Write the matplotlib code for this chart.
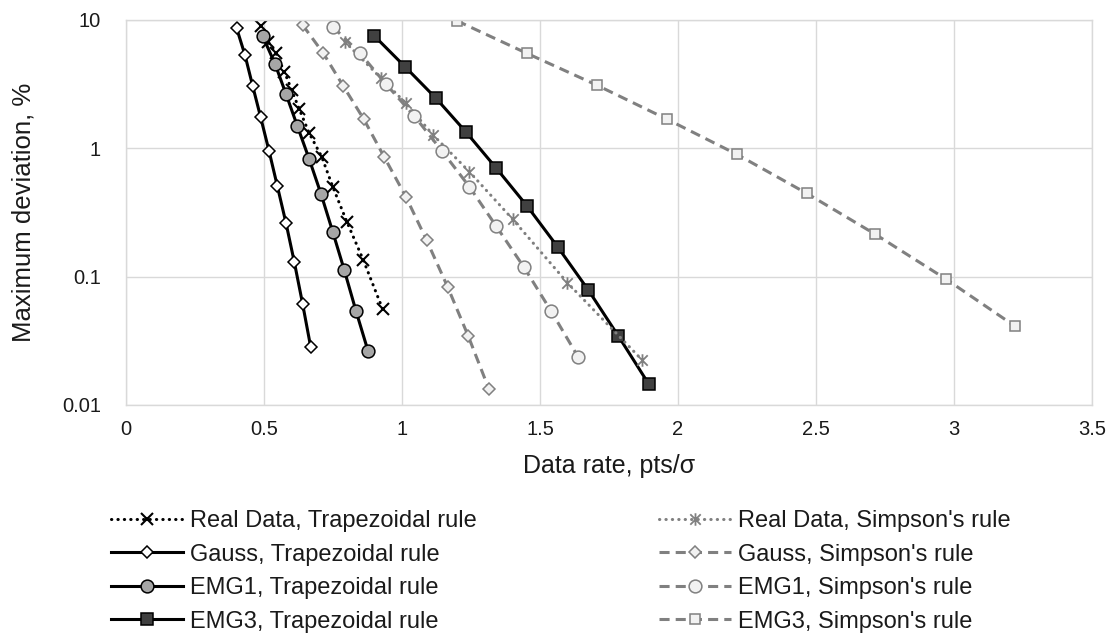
import matplotlib
matplotlib.use('Agg')
import matplotlib.pyplot as plt
from matplotlib.path import Path
from matplotlib.ticker import FixedLocator, FixedFormatter, NullLocator

plt.rcParams['font.family'] = ['Liberation Sans', 'DejaVu Sans']

# ---------------- data ----------------
real_trap_x = [0.488, 0.516, 0.543, 0.574, 0.600, 0.628, 0.664, 0.709, 0.749, 0.800, 0.860, 0.930]
real_trap_y = [8.9, 6.65, 5.46, 3.92, 2.83, 2.0, 1.30, 0.856, 0.50, 0.267, 0.134, 0.0556]

gauss_trap_x = [0.401, 0.431, 0.459, 0.488, 0.518, 0.548, 0.580, 0.610, 0.640, 0.669]
gauss_trap_y = [8.54, 5.29, 3.04, 1.73, 0.953, 0.509, 0.259, 0.129, 0.0611, 0.0284]

emg1_trap_x = [0.495, 0.540, 0.580, 0.621, 0.664, 0.707, 0.749, 0.791, 0.833, 0.877]
emg1_trap_y = [7.44, 4.51, 2.62, 1.48, 0.817, 0.436, 0.223, 0.112, 0.0542, 0.0263]

emg3_trap_x = [0.900, 1.011, 1.123, 1.232, 1.341, 1.453, 1.564, 1.675, 1.784, 1.894]
emg3_trap_y = [7.44, 4.29, 2.44, 1.33, 0.699, 0.354, 0.170, 0.0785, 0.0344, 0.01456]

real_simp_x = [0.793, 0.924, 1.014, 1.113, 1.244, 1.401, 1.599, 1.870]
real_simp_y = [6.72, 3.49, 2.23, 1.26, 0.654, 0.279, 0.0895, 0.0224]

gauss_simp_x = [0.640, 0.715, 0.787, 0.862, 0.935, 1.014, 1.089, 1.166, 1.240, 1.315]
gauss_simp_y = [9.06, 5.46, 3.04, 1.67, 0.856, 0.418, 0.192, 0.0824, 0.0344, 0.0133]

emg1_simp_x = [0.749, 0.848, 0.942, 1.045, 1.144, 1.244, 1.341, 1.442, 1.540, 1.639]
emg1_simp_y = [8.79, 5.46, 3.14, 1.77, 0.953, 0.50, 0.247, 0.118, 0.0539, 0.0235]

emg3_simp_x = [1.198, 1.452, 1.705, 1.959, 2.213, 2.466, 2.715, 2.97, 3.22]
emg3_simp_y = [9.79, 5.46, 3.09, 1.68, 0.893, 0.444, 0.213, 0.0957, 0.0412]

x_ticks = [0, 0.5, 1, 1.5, 2, 2.5, 3, 3.5]
x_tick_labels = ['0', '0.5', '1', '1.5', '2', '2.5', '3', '3.5']
y_ticks = [0.01, 0.1, 1, 10]
y_tick_labels = ['0.01', '0.1', '1', '10']

labels = ["Real Data, Trapezoidal rule", "Gauss, Trapezoidal rule",
          "EMG1, Trapezoidal rule", "EMG3, Trapezoidal rule",
          "Real Data, Simpson's rule", "Gauss, Simpson's rule",
          "EMG1, Simpson's rule", "EMG3, Simpson's rule"]

# ---------------- figure ----------------
W, H = 1113, 634
fig = plt.figure(figsize=(W / 100, H / 100), dpi=100)
ax = fig.add_axes([126 / W, 1 - 405 / H, (1092 - 126) / W, (405 - 19.5) / H])

GRID = '#d9d9d9'
GRAY = '#808080'
LIGHT = '#f2f2f2'
TXT = '#1a1a1a'
LW = 2.2

star = Path([(-1, -1), (1, 1), (-1, 1), (1, -1), (0, -1.2), (0, 1.2)],
            [Path.MOVETO, Path.LINETO, Path.MOVETO, Path.LINETO, Path.MOVETO, Path.LINETO])

dot = (0, (0.1, 2.0))
dash = (0, (3.3, 2.0))

h_rdt, = ax.plot(real_trap_x, real_trap_y, color='black', lw=LW, linestyle=dot,
                 dash_capstyle='round', marker='x', ms=8.5, mew=1.5, mec='black')
h_gt, = ax.plot(gauss_trap_x, gauss_trap_y, color='black', lw=LW, marker='D', ms=6.4,
                mfc='white', mec='black', mew=1.1)
h_e1t, = ax.plot(emg1_trap_x, emg1_trap_y, color='black', lw=LW, marker='o', ms=9.2,
                 mfc='#a6a6a6', mec='black', mew=1.1)
h_e3t, = ax.plot(emg3_trap_x, emg3_trap_y, color='black', lw=LW, marker='s', ms=8.0,
                 mfc='#404040', mec='black', mew=1.1)

h_rds, = ax.plot(real_simp_x, real_simp_y, color=GRAY, lw=LW, linestyle=dot,
                 dash_capstyle='round', marker=star, ms=9, mew=1.3, mec=GRAY, mfc='none')
h_gs, = ax.plot(gauss_simp_x, gauss_simp_y, color=GRAY, lw=LW, linestyle=dash, marker='D',
                ms=6.2, mfc=LIGHT, mec=GRAY, mew=1.1)
h_e1s, = ax.plot(emg1_simp_x, emg1_simp_y, color=GRAY, lw=LW, linestyle=dash, marker='o',
                 ms=9.2, mfc=LIGHT, mec=GRAY, mew=1.1)
h_e3s, = ax.plot(emg3_simp_x, emg3_simp_y, color=GRAY, lw=LW, linestyle=dash, marker='s',
                 ms=7.8, mfc=LIGHT, mec=GRAY, mew=1.1)

ax.set_yscale('log')
ax.set_xlim(0, 3.5)
ax.set_ylim(0.01, 10)
ax.xaxis.set_major_locator(FixedLocator(x_ticks))
ax.xaxis.set_major_formatter(FixedFormatter(x_tick_labels))
ax.yaxis.set_major_locator(FixedLocator(y_ticks))
ax.yaxis.set_major_formatter(FixedFormatter(y_tick_labels))
ax.yaxis.set_minor_locator(NullLocator())
ax.xaxis.set_minor_locator(NullLocator())
ax.grid(True, which='major', color=GRID, lw=1.0)
ax.set_axisbelow(True)
for s in ax.spines.values():
    s.set_color(GRID)
    s.set_linewidth(1.0)
ax.tick_params(axis='both', length=0, labelsize=14.5, colors=TXT)
ax.tick_params(axis='y', pad=18)
ax.tick_params(axis='x', pad=11)

ax.set_xlabel('Data rate, pts/σ', fontsize=18, color=TXT, va='center')
ax.xaxis.set_label_coords(0.5, (405 - 466) / 385.5)
ax.set_ylabel('Maximum deviation, %', fontsize=18.5, color=TXT, va='center')
ax.yaxis.set_label_coords((24 - 126) / 966, 0.5)

leg_kw = dict(frameon=False, fontsize=17, handlelength=3.05, handletextpad=0.3,
              labelspacing=0.49, borderpad=0, borderaxespad=0, numpoints=1,
              loc='upper left', labelcolor=TXT)
leg1 = fig.legend([h_rdt, h_gt, h_e1t, h_e3t], labels[:4],
                  bbox_to_anchor=(111 / W, 1 - 510 / H), **leg_kw)
leg2 = fig.legend([h_rds, h_gs, h_e1s, h_e3s], labels[4:],
                  bbox_to_anchor=(659 / W, 1 - 510 / H), **leg_kw)

fig.savefig('out.png', dpi=100)
